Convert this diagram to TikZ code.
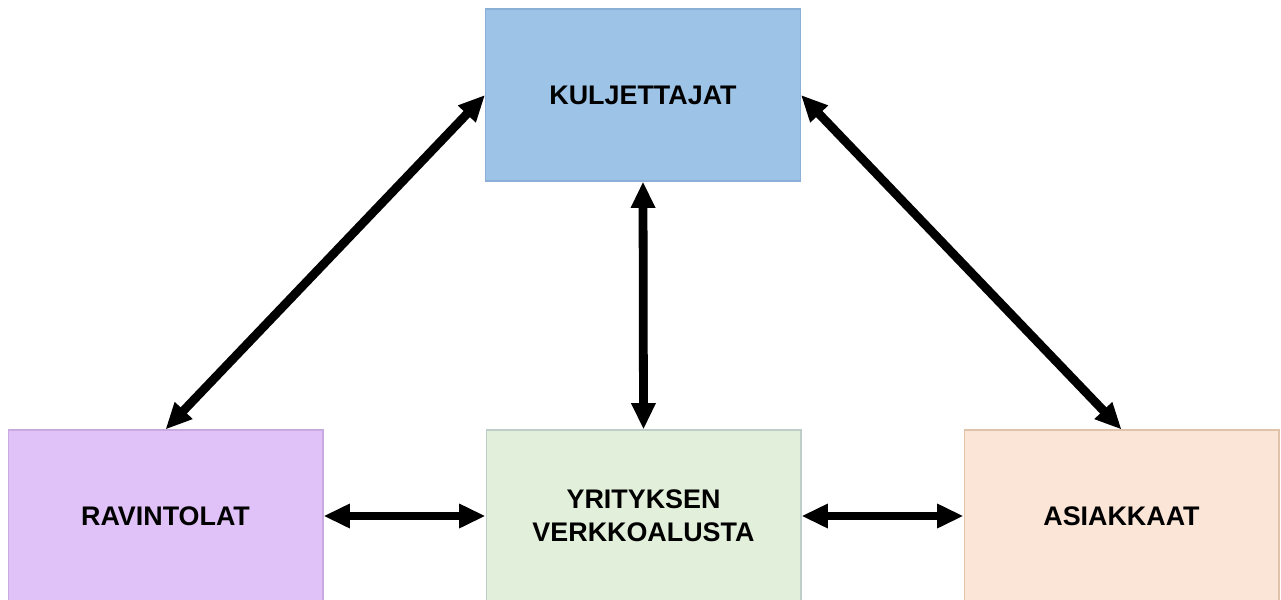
\documentclass[tikz,border=0pt]{standalone}
\usepackage{fontspec}
\setmainfont{Liberation Sans}
\def\boxwidth{6.3cm}
\def\boxheight{3.44cm}
\usepackage{tikz}
\usetikzlibrary{arrows.meta}

\begin{document}
\begin{tikzpicture}[x=0.02cm, y=-0.02cm, line width=5pt]
	\tikzstyle{link}=[{Triangle[length=15pt,width=13pt]}-{Triangle[length=15pt,width=13pt]}, black]
	\tikzstyle{party}=[rectangle, line width=0.6pt, minimum width=\boxwidth, minimum height=\boxheight, inner sep=0pt, align=center, font=\fontsize{15.3pt}{19pt}\selectfont\bfseries]
	\tikzstyle{drivers}=[party, fill={rgb,255:red,157;green,195;blue,230}, draw={rgb,255:red,140;green,175;blue,215}];
	\tikzstyle{restaurants}=[party, fill={rgb,255:red,224;green,194;blue,248}, draw={rgb,255:red,200;green,170;blue,225}];
	\tikzstyle{platform}=[party, fill={rgb,255:red,226;green,239;blue,218}, draw={rgb,255:red,190;green,205;blue,200}];
	\tikzstyle{customers}=[party, fill={rgb,255:red,251;green,229;blue,214}, draw={rgb,255:red,225;green,195;blue,170}];

	\useasboundingbox (0,0) rectangle (1281,599);

	% Draw the parties
	\node[drivers] (K) at (643,95) {KULJETTAJAT};
	\node[restaurants] (R) at (165.5,516) {RAVINTOLAT};
	\node[platform] (Y) at (643.5,516) {YRITYKSEN\\VERKKOALUSTA};
	\node[customers] (A) at (1121.5,516) {ASIAKKAAT};

	% Connect the parties
	\foreach \source / \dest in {R.north/K.west, A.north/K.east, Y.north/K.south}
	\path[link] (\source) edge (\dest);

	\foreach \source / \dest in {R.east/Y.west, Y.east/A.west}
	\path[link] (\source) edge (\dest);

\end{tikzpicture}
\end{document}
